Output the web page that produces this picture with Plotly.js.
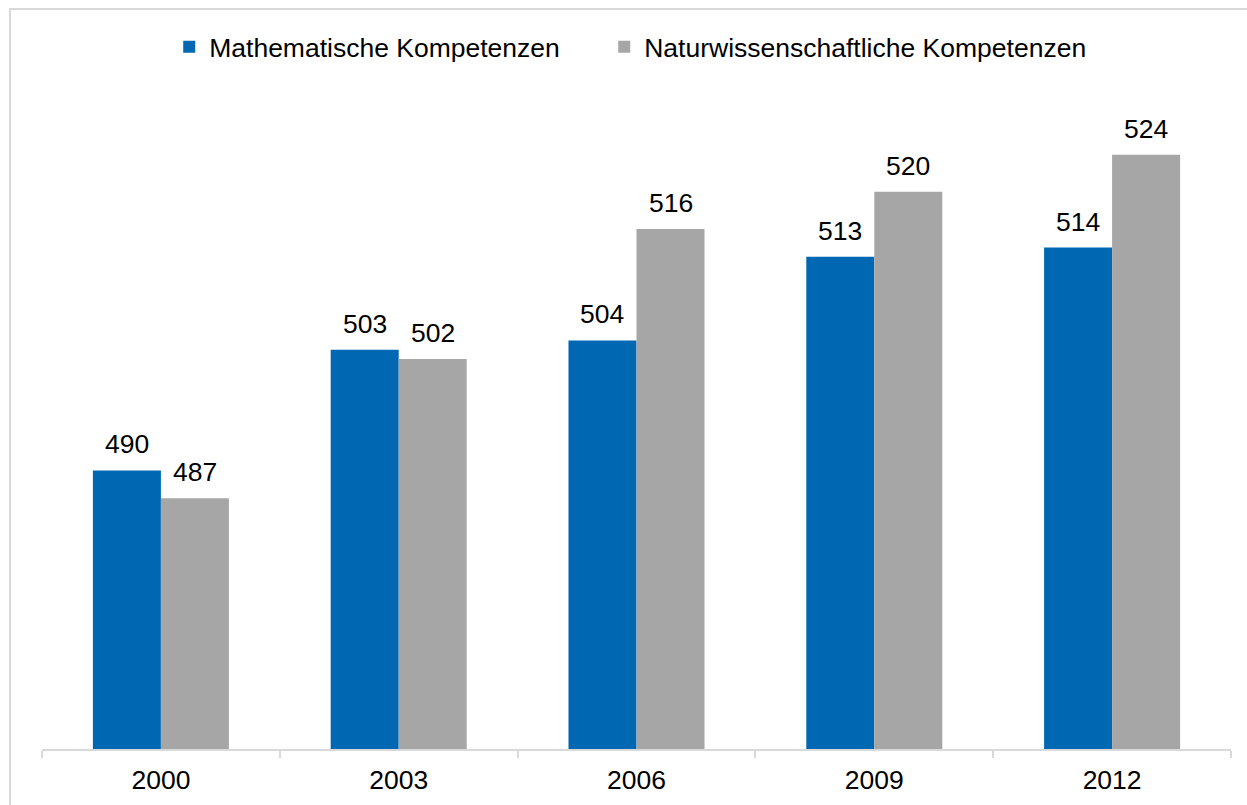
<!DOCTYPE html>
<html>
<head>
<meta charset="utf-8">
<script src="https://cdn.plot.ly/plotly-3.0.1.min.js"></script>
<style>
  html, body { margin: 0; padding: 0; background: #fff; overflow: hidden; }
  #frame {
    position: absolute; left: 9px; top: 8px; width: 1300px; height: 900px;
    border-left: 2px solid #d9d9d9; border-top: 2px solid #d9d9d9;
    pointer-events: none;
  }
  #myPlotDiv { position: absolute; left: 0; top: 0; width: 1247px; height: 805px; }
</style>
</head>
<body>
<div id="myPlotDiv"></div>
<div id="frame"></div>
<script>
// PISA results by year
const years = ['2000', '2003', '2006', '2009', '2012'];
const mathValues = [490, 503, 504, 513, 514];
const sciValues = [487, 502, 516, 520, 524];
const seriesNames = ['Mathematische Kompetenzen', 'Naturwissenschaftliche Kompetenzen'];

const fontFamily = '"Liberation Sans", Arial, Helvetica, sans-serif';
const fontSize = 26.5;
const barGap = 0.428;
const labelOffset = (1 - barGap) / 4; // half a bar width, in category units

function buildLabels() {
    const labels = [];
    years.forEach((year, i) => {
        labels.push({
            x: i - labelOffset, y: mathValues[i], text: String(mathValues[i]),
            xref: 'x', yref: 'y', showarrow: false, yanchor: 'bottom', yshift: 9,
            font: { size: fontSize, color: '#000', family: fontFamily }
        });
        labels.push({
            x: i + labelOffset, y: sciValues[i], text: String(sciValues[i]),
            xref: 'x', yref: 'y', showarrow: false, yanchor: 'bottom', yshift: 9,
            font: { size: fontSize, color: '#000', family: fontFamily }
        });
    });
    return labels;
}

function plotChart() {
    var mathTrace = {
        x: years,
        y: mathValues,
        type: 'bar',
        name: seriesNames[0],
        marker: { color: '#0068b3' },
        legendwidth: 390,
        hoverinfo: 'x+y'
    };

    var sciTrace = {
        x: years,
        y: sciValues,
        type: 'bar',
        name: seriesNames[1],
        marker: { color: '#a6a6a6' },
        hoverinfo: 'x+y'
    };

    var layout = {
        width: 1247,
        height: 805,
        margin: { l: 42, r: 16, t: 99, b: 56 },
        paper_bgcolor: '#ffffff',
        plot_bgcolor: '#ffffff',
        font: { family: fontFamily, size: fontSize, color: '#000' },
        barmode: 'group',
        bargap: barGap,
        bargroupgap: 0,
        showlegend: true,
        legend: {
            orientation: 'h',
            x: 0.107, xanchor: 'left',
            y: 1.08, yanchor: 'middle',
            font: { size: fontSize, color: '#000', family: fontFamily },
            bgcolor: 'rgba(0,0,0,0)'
        },
        xaxis: {
            type: 'category',
            showline: true,
            linecolor: '#d9d9d9',
            linewidth: 2,
            ticks: 'outside',
            tickson: 'boundaries',
            ticklen: 7,
            tickwidth: 2,
            tickcolor: '#d9d9d9',
            ticklabelstandoff: 6,
            tickfont: { size: fontSize, color: '#000', family: fontFamily },
            showgrid: false,
            zeroline: false
        },
        yaxis: {
            range: [460, 530],
            showticklabels: false,
            showgrid: false,
            zeroline: false,
            showline: false,
            ticks: ''
        },
        annotations: buildLabels()
    };

    Plotly.newPlot('myPlotDiv', [mathTrace, sciTrace], layout, { displayModeBar: false, staticPlot: true });
}

window.onload = function() {
    plotChart();
};
</script>
</body>
</html>
